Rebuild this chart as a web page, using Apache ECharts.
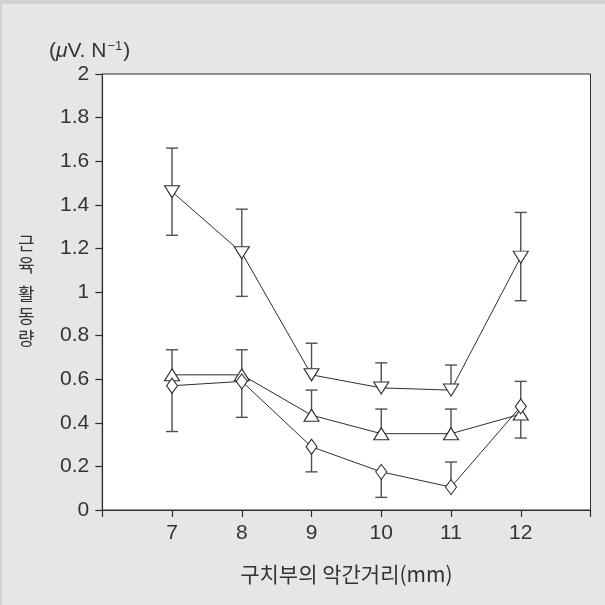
<!DOCTYPE html>
<html>
<head>
<meta charset="utf-8">
<script src="https://cdn.jsdelivr.net/npm/echarts@6/dist/echarts.min.js"></script>
<style>
  html, body { margin: 0; padding: 0; width: 605px; height: 605px; background: #d1d2d4; overflow: hidden; }
  #chart { position: absolute; left: 2px; top: 4px; width: 603px; height: 601px; background: #e5e6e8; }
</style>
</head>
<body>
<div id="chart"></div>
<script>
// Inter-arch distance at the posterior teeth (mm)
const distances = [7, 8, 9, 10, 11, 12];
const xTickLabels = ['7', '8', '9', '10', '11', '12'];
const yTickLabels = ['0', '0.2', '0.4', '0.6', '0.8', '1', '1.2', '1.4', '1.6', '1.8', '2'];

// Muscle activity, mean with error-bar ends (null = bar not drawn on that side)
const downTriMean  = [1.46, 1.18, 0.62, 0.56, 0.55, 1.16];
const downTriUpper = [1.66, 1.38, 0.765, 0.675, 0.665, 1.365];
const downTriLower = [1.26, 0.98, null, null, null, 0.96];

const upTriMean  = [0.62, 0.62, 0.435, 0.35, 0.35, 0.44];
const upTriUpper = [0.735, 0.735, 0.55, 0.463, 0.463, null];
const upTriLower = [null, null, null, null, null, 0.33];

const diamondMean  = [0.57, 0.59, 0.29, 0.175, 0.105, 0.475];
const diamondUpper = [null, null, null, null, 0.22, 0.59];
const diamondLower = [0.36, 0.425, 0.175, 0.058, null, null];

const INK = '#2e2e2e';
const BAR = '#505050';
const NUM_FONT = 'Liberation Sans, Arial, sans-serif';
const KR_FONT = 'Noto Sans CJK KR, sans-serif';

function pairs(ys) { return distances.map((x, i) => [x, ys[i]]); }

function errorData(mean, upper, lower) {
  return distances.map((x, i) => [
    x, mean[i],
    upper[i] == null ? NaN : upper[i],
    lower[i] == null ? NaN : lower[i]
  ]);
}

function renderError(params, api) {
  const x = api.value(0), m = api.value(1), hi = api.value(2), lo = api.value(3);
  const cap = 6;
  const children = [];
  const pm = api.coord([x, m]);
  const style = { stroke: BAR, lineWidth: 1.4, fill: null };
  if (!isNaN(hi)) {
    const p = api.coord([x, hi]);
    children.push({ type: 'line', shape: { x1: pm[0], y1: pm[1], x2: p[0], y2: p[1] }, style });
    children.push({ type: 'line', shape: { x1: p[0] - cap, y1: p[1], x2: p[0] + cap, y2: p[1] }, style });
  }
  if (!isNaN(lo)) {
    const p = api.coord([x, lo]);
    children.push({ type: 'line', shape: { x1: pm[0], y1: pm[1], x2: p[0], y2: p[1] }, style });
    children.push({ type: 'line', shape: { x1: p[0] - cap, y1: p[1], x2: p[0] + cap, y2: p[1] }, style });
  }
  return { type: 'group', children };
}

function errorSeries(mean, upper, lower) {
  return {
    type: 'custom',
    renderItem: renderError,
    data: errorData(mean, upper, lower),
    encode: { x: 0, y: 1 },
    z: 1,
    silent: true
  };
}

function lineSeries(values, symbol, size, rotate) {
  return {
    type: 'line',
    data: pairs(values),
    symbol: symbol,
    symbolSize: size,
    symbolRotate: rotate,
    showAllSymbol: true,
    lineStyle: { color: INK, width: 1 },
    itemStyle: { color: '#ffffff', borderColor: INK, borderWidth: 1.1 },
    z: 3,
    silent: true
  };
}

const chart = echarts.init(document.getElementById('chart'), null, { renderer: 'canvas' });

chart.setOption({
  animation: false,
  grid: {
    left: 100.3, right: 14.5, top: 70, bottom: 95,
    show: true, backgroundColor: '#ffffff', borderColor: INK, borderWidth: 1
  },
  xAxis: {
    type: 'value', min: 6, max: 13, interval: 1,
    axisLine: { lineStyle: { color: INK, width: 1.2 } },
    axisTick: { inside: false, length: 7, lineStyle: { color: INK, width: 1.2 } },
    splitLine: { show: false },
    axisLabel: {
      margin: 13, color: '#333', fontFamily: NUM_FONT, fontSize: 21,
      formatter: v => { const i = distances.indexOf(v); return i < 0 ? '' : xTickLabels[i]; }
    },
    name: '구치부의 악간거리(mm)',
    nameLocation: 'middle', nameGap: 54,
    nameTextStyle: { fontFamily: KR_FONT, fontSize: 21, color: '#333' }
  },
  yAxis: {
    type: 'value', min: 0, max: 2, interval: 0.2,
    axisLine: { show: true, lineStyle: { color: INK, width: 1.2 } },
    axisTick: { show: true, inside: false, length: 7, lineStyle: { color: INK, width: 1.2 } },
    splitLine: { show: false },
    axisLabel: {
      margin: 13, color: '#333', fontFamily: NUM_FONT, fontSize: 21,
      formatter: v => yTickLabels[Math.round(v / 0.2)]
    }
  },
  graphic: [
    {
      type: 'text', left: 47, top: 36,
      style: {
        text: '{p|(}{mu|μ}{p|V. N}{sup|−1}{p|)}',
        rich: {
          p: { fontFamily: NUM_FONT, fontSize: 21, fill: '#333' },
          mu: { fontFamily: NUM_FONT, fontSize: 21, fontStyle: 'italic', fill: '#333' },
          sup: { fontFamily: NUM_FONT, fontSize: 13, fill: '#333', padding: [0, 1, 9, 1] }
        }
      }
    },
    {
      type: 'text', left: 16, top: 230,
      style: {
        text: '{c|근}\n{c|육}\n{s| }\n{c|활}\n{c|동}\n{c|량}',
        rich: {
          c: { fontFamily: KR_FONT, fontSize: 18, lineHeight: 22, fill: '#333' },
          s: { fontSize: 6, lineHeight: 7 }
        }
      }
    }
  ],
  series: [
    errorSeries(downTriMean, downTriUpper, downTriLower),
    errorSeries(upTriMean, upTriUpper, upTriLower),
    errorSeries(diamondMean, diamondUpper, diamondLower),
    lineSeries(downTriMean, 'triangle', [15, 12], 180),
    lineSeries(upTriMean, 'triangle', [15, 12], 0),
    lineSeries(diamondMean, 'diamond', [11, 15], 0)
  ]
});
</script>
</body>
</html>
